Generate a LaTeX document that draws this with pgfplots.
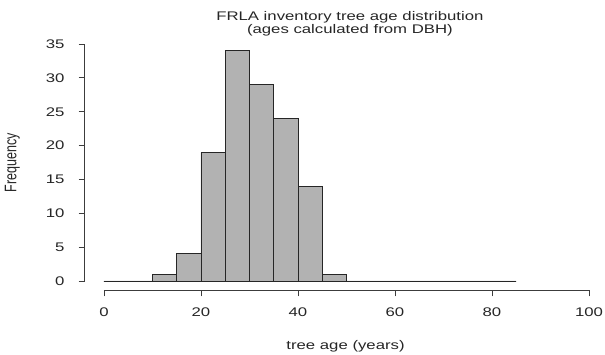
\documentclass[border=0pt]{standalone}
\usepackage{graphicx}
\usepackage{pgfplots}
\pgfplotsset{compat=1.18}
\usepackage{fontspec}
\setmainfont{Liberation Sans}

\definecolor{barfill}{RGB}{178,178,178}
\definecolor{axisgray}{RGB}{60,60,60}
% text in this chart is set slightly wide
\newcommand{\wide}[1]{\scalebox{1.34}[1]{#1}}

\begin{document}
\begin{tikzpicture}[font=\fontsize{12.5bp}{15bp}\selectfont]
\begin{axis}[
  scale only axis,
  width=509.25bp, height=255.9bp,
  xmin=-4, xmax=101, ymin=-1.4, ymax=36.4,
  axis x line*=bottom, axis y line*=left,
  axis line style={draw=none},
  xtick={0,20,40,60,80,100},
  ytick={0,5,10,15,20,25,30,35},
  tick align=outside,
  major tick length=6bp,
  tick style={axisgray, line width=0.8bp},
  /pgf/number format/assume math mode=true,
  xticklabel={\wide{\pgfmathprintnumber{\tick}}},
  yticklabel={\wide{\pgfmathprintnumber{\tick}}},
  xticklabel style={yshift=-8bp, text=black!85},
  yticklabel style={xshift=-10.5bp, text=black!85},
  clip=false,
]
% histogram of tree ages, 5-year bins from 0 to 85
\addplot[ybar interval, fill=barfill, draw=black!85, line width=0.8bp] table {
x   y
0   0
5   0
10  1
15  4
20  19
25  34
30  29
35  24
40  14
45  1
50  0
55  0
60  0
65  0
70  0
75  0
80  0
85  0
};
% axis lines spanning the tick range only
\draw[axisgray, line width=0.8bp] (axis cs:0,-1.4) -- (axis cs:100,-1.4);
\draw[axisgray, line width=0.8bp] (axis cs:-4,0) -- (axis cs:-4,35);
% titles and axis labels
\node[anchor=base, text=black!85, inner sep=0pt] at (axis cs:50.7,38.40) {\wide{FRLA inventory tree age distribution}};
\node[anchor=base, text=black!85, inner sep=0pt] at (axis cs:50.7,36.58) {\wide{(ages calculated from DBH)}};
\node[anchor=base, text=black!85, inner sep=0pt] at (axis cs:49.8,-10.19) {\wide{tree age (years)}};
\node[rotate=90, text=black!85, inner sep=0pt] at (axis cs:-18.87,17.43) {\scalebox{1}[1.34]{Frequency}};
\coordinate (bl) at (axis cs:-21.44,-10.93);
\coordinate (tr) at (axis cs:103.3,41.5);
\end{axis}
\pgfresetboundingbox
\path[use as bounding box] (bl) rectangle (tr);
\end{tikzpicture}
\end{document}
